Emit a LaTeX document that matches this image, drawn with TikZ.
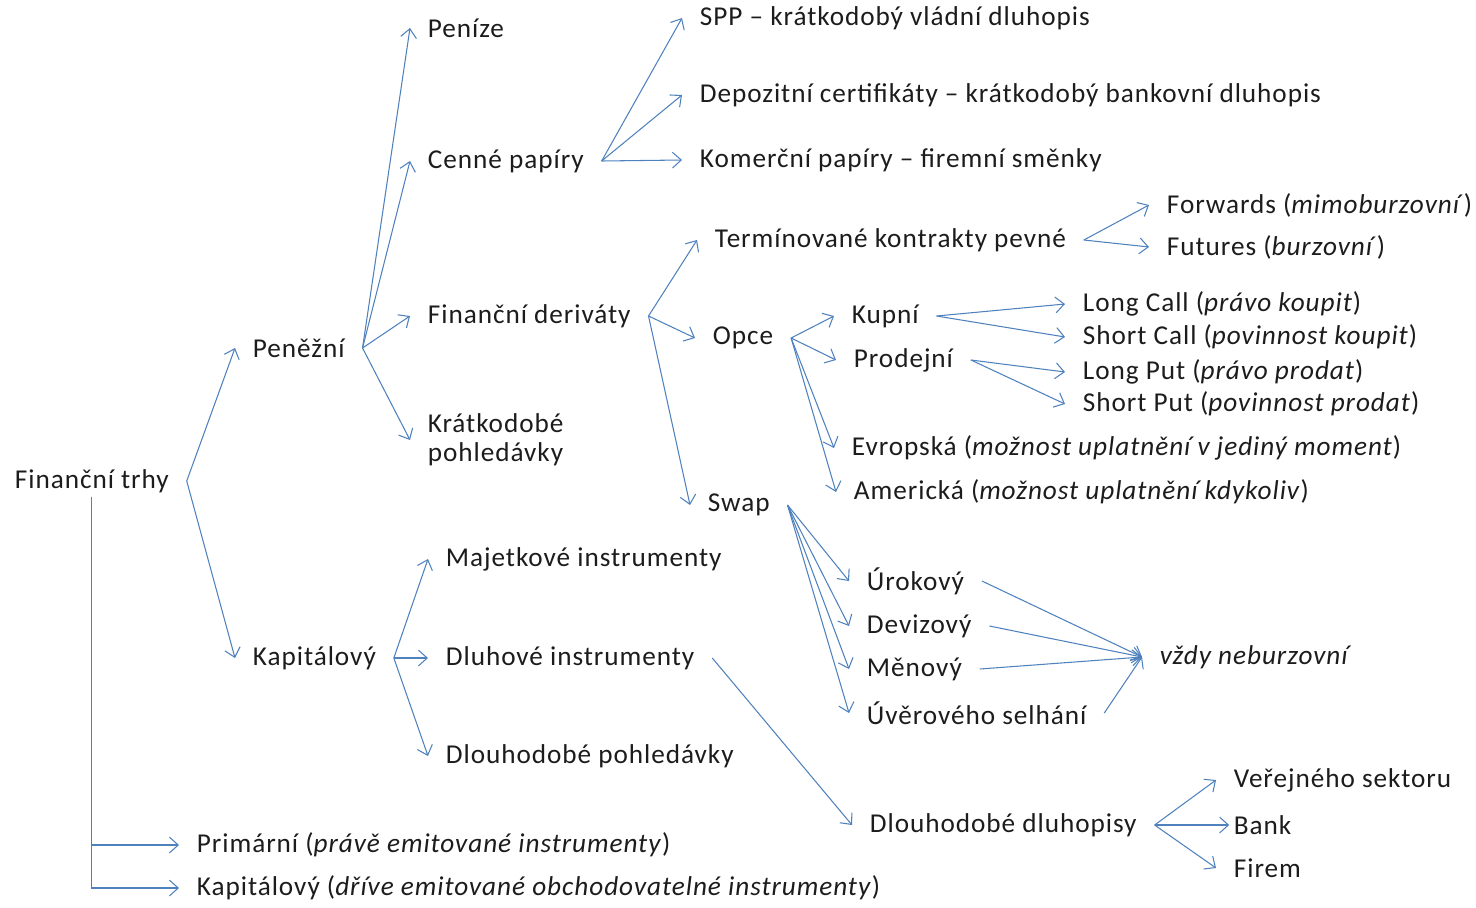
\documentclass[tikz,border=0pt]{standalone}
\usepackage{fontspec}
\setmainfont{Carlito}[LetterSpace=3.5]
\usepackage{tikz}
\usetikzlibrary{arrows.meta}
\definecolor{arrblue}{RGB}{79,129,189}
\definecolor{txtgray}{RGB}{28,28,28}
\tikzset{
  lbl/.style={anchor=west, inner xsep=10pt, inner ysep=2pt, align=left,
    font=\fontsize{15.5}{16.5}\selectfont, text=txtgray},
  br/.style={-{Straight Barb[length=5pt, width=9pt]}, draw=arrblue, line width=0.6pt},
}
\begin{document}
\begin{tikzpicture}[x=0.02cm, y=-0.02cm]
  \useasboundingbox (0,0) rectangle (1476,907);
  % root and first level
  \node[lbl] (ft) at (-3,481) {Finanční trhy};
  \node[lbl] (pen) at (235,348) {Peněžní};
  \node[lbl] (kap) at (235,658) {Kapitálový};
  % money market
  \node[lbl] (penize) at (410,28) {Peníze};
  \node[lbl] (cp) at (410,161) {Cenné papíry};
  \node[lbl] (fd) at (410,316) {Finanční deriváty};
  \node[lbl] (kp) at (410,440) {Krátkodobé\\pohledávky};
  \node[lbl] (spp) at (682,18) {SPP -- krátkodobý vládní dluhopis};
  \node[lbl] (dep) at (682,95) {Depozitní certifikáty -- krátkodobý bankovní dluhopis};
  \node[lbl] (kom) at (682,160) {Komerční papíry -- firemní směnky};
  % derivatives
  \node[lbl] (term) at (697,240) {Termínované kontrakty pevné};
  \node[lbl] (fwd) at (1149,205) {Forwards (\textit{mimoburzovní})};
  \node[lbl] (fut) at (1149,247) {Futures (\textit{burzovní})};
  \node[lbl] (opce) at (695,338) {Opce};
  \node[lbl] (kup) at (834,316) {Kupní};
  \node[lbl] (pro) at (836,360) {Prodejní};
  \node[lbl] (lc) at (1065,304) {Long Call (\textit{právo koupit})};
  \node[lbl] (sc) at (1065,337) {Short Call (\textit{povinnost koupit})};
  \node[lbl] (lp) at (1065,372) {Long Put (\textit{právo prodat})};
  \node[lbl] (sp) at (1065,404) {Short Put (\textit{povinnost prodat})};
  \node[lbl] (evr) at (834,448) {Evropská (\textit{možnost uplatnění v jediný moment})};
  \node[lbl] (ame) at (836,492) {Americká (\textit{možnost uplatnění kdykoliv})};
  \node[lbl] (swap) at (690,505) {Swap};
  \node[lbl] (uro) at (849,581) {Úrokový};
  \node[lbl] (dev) at (849,626) {Devizový};
  \node[lbl] (men) at (849,669) {Měnový};
  \node[lbl] (uve) at (849,713) {Úvěrového selhání};
  \node[lbl] (vzdy) at (1142,657) {\textit{vždy neburzovní}};
  % capital market
  \node[lbl] (maj) at (428,559) {Majetkové instrumenty};
  \node[lbl] (dlu) at (428,658) {Dluhové instrumenty};
  \node[lbl] (dpo) at (428,756) {Dlouhodobé pohledávky};
  \node[lbl] (ddl) at (852,825) {Dlouhodobé dluhopisy};
  \node[lbl] (ver) at (1216,780) {Veřejného sektoru};
  \node[lbl] (bank) at (1216,825) {Bank};
  \node[lbl] (fir) at (1216,868) {Firem};
  % primary / secondary
  \node[lbl] (pri) at (179,845) {Primární (\textit{právě emitované instrumenty})};
  \node[lbl] (kap2) at (179,888) {Kapitálový (\textit{dříve emitované obchodovatelné instrumenty})};

  \foreach \a/\b in {ft/pen, ft/kap, pen/penize, pen/cp, pen/fd, pen/kp,
      cp/spp, cp/dep, cp/kom, fd/term, fd/opce, fd/swap, term/fwd, term/fut,
      opce/kup, opce/pro, opce/evr, opce/ame, kup/lc, kup/sc, pro/lp, pro/sp,
      swap/uro, swap/dev, swap/men, swap/uve, uro/vzdy, dev/vzdy, men/vzdy, uve/vzdy,
      kap/maj, kap/dlu, kap/dpo, dlu/ddl, ddl/ver, ddl/fir}
    \draw[br] (\a.east) -- (\b.west);
  \draw[br] (ddl.east) -- ([xshift=7.5pt]bank.west);
  \draw[br] (ft.south) |- (pri.west);
  \draw[br] (ft.south) |- (kap2.west);
\end{tikzpicture}
\end{document}
